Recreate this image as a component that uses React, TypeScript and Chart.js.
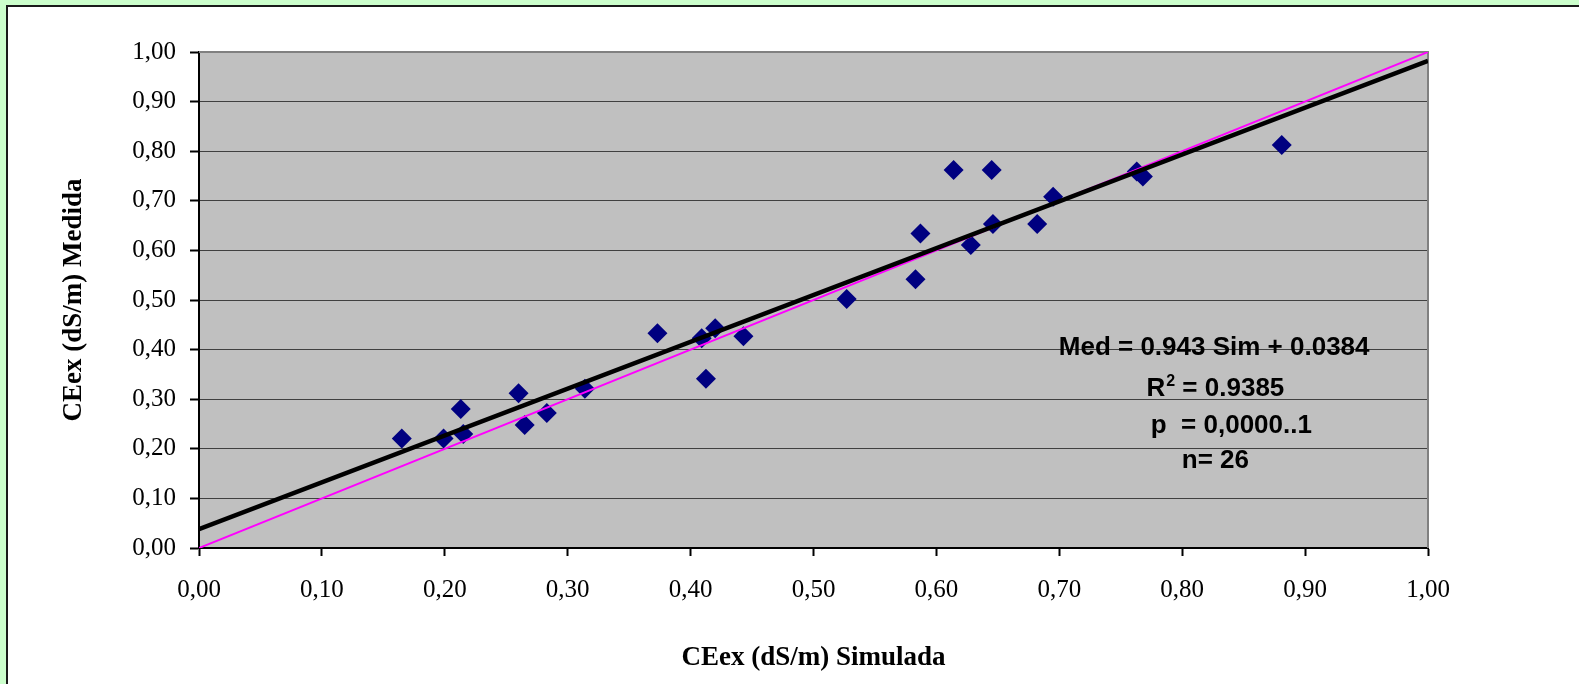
import React, { useEffect, useRef } from "react";
import { Chart, registerables } from "chart.js";

Chart.register(...registerables);

// ---- data ----
const simulated = [
  0.165, 0.199, 0.213, 0.215, 0.26, 0.265, 0.283, 0.314, 0.373, 0.409, 0.42, 0.4125, 0.443,
  0.527, 0.583, 0.587, 0.614, 0.628, 0.645, 0.646, 0.682, 0.695, 0.763, 0.768, 0.881,
];
const measured = [
  0.221, 0.221, 0.28, 0.23, 0.312, 0.248, 0.272, 0.321, 0.433, 0.423, 0.443, 0.341, 0.427,
  0.502, 0.542, 0.634, 0.762, 0.611, 0.762, 0.653, 0.653, 0.708, 0.759, 0.749, 0.8125,
];
const lineX = [0, 1];
const regressionY = [0.038, 0.982];
const identityY = [0, 1];

const xTickLabels = ["0,00", "0,10", "0,20", "0,30", "0,40", "0,50", "0,60", "0,70", "0,80", "0,90", "1,00"];
const yTickLabels = ["0,00", "0,10", "0,20", "0,30", "0,40", "0,50", "0,60", "0,70", "0,80", "0,90", "1,00"];

const xTitle = "CEex (dS/m) Simulada";
const yTitle = "CEex (dS/m) Medida";

const statLine1 = "Med = 0.943 Sim + 0.0384";
const statLine2Base = "R";
const statLine2Sup = "2";
const statLine2Rest = " = 0.9385";
const statLine3 = "p  = 0,0000..1";
const statLine4 = "n= 26";

// anchor positions (data coordinates) for the statistics block
const statAnchors = [
  { x: 0.826, y: 0.389 },
  { x: 0.827, y: 0.306 },
  { x: 0.84, y: 0.2325 },
  { x: 0.827, y: 0.161 },
];

const SERIF = '"Liberation Serif", "Times New Roman", serif';
const SANS = '"Liberation Sans", Arial, sans-serif';

const framePlugin = {
  id: "plotFrame",
  beforeDraw(chart: any) {
    const { ctx, chartArea: a } = chart;
    ctx.save();
    ctx.fillStyle = "#c0c0c0";
    ctx.fillRect(a.left, a.top, a.right - a.left, a.bottom - a.top);
    ctx.restore();
  },
  beforeDatasetsDraw(chart: any) {
    const { ctx, chartArea: a } = chart;
    ctx.save();
    ctx.strokeStyle = "#808080";
    ctx.lineWidth = 2;
    ctx.beginPath();
    ctx.moveTo(a.left, a.top);
    ctx.lineTo(a.right, a.top);
    ctx.lineTo(a.right, a.bottom);
    ctx.stroke();
    ctx.restore();
  },
};

const statsPlugin = {
  id: "stats",
  afterDatasetsDraw(chart: any) {
    const { ctx } = chart;
    const xs = chart.scales.x;
    const ys = chart.scales.y;
    const mainFont = `bold 26px ${SANS}`;
    const supFont = `bold 16px ${SANS}`;
    ctx.save();
    ctx.fillStyle = "#000";
    ctx.textBaseline = "alphabetic";
    ctx.font = mainFont;
    ctx.textAlign = "center";
    const simple = [statLine1, null, statLine3, statLine4];
    simple.forEach((t, i) => {
      if (t === null) return;
      const p = statAnchors[i];
      ctx.fillText(t, xs.getPixelForValue(p.x), ys.getPixelForValue(p.y));
    });
    // R^2 line
    const p2 = statAnchors[1];
    const cx = xs.getPixelForValue(p2.x);
    const by = ys.getPixelForValue(p2.y);
    ctx.textAlign = "left";
    ctx.font = mainFont;
    const wR = ctx.measureText(statLine2Base).width;
    const wRest = ctx.measureText(statLine2Rest).width;
    ctx.font = supFont;
    const wSup = ctx.measureText(statLine2Sup).width;
    const total = wR + 1 + wSup + wRest;
    let x = cx - total / 2;
    ctx.font = mainFont;
    ctx.fillText(statLine2Base, x, by);
    x += wR + 1;
    ctx.font = supFont;
    ctx.fillText(statLine2Sup, x, by - 10);
    x += wSup;
    ctx.font = mainFont;
    ctx.fillText(statLine2Rest, x, by);
    ctx.restore();
  },
};

export default function App() {
  const ref = useRef<HTMLCanvasElement | null>(null);

  useEffect(() => {
    if (!ref.current) return;
    const points = simulated.map((v, i) => ({ x: v, y: measured[i] }));
    const regression = lineX.map((v, i) => ({ x: v, y: regressionY[i] }));
    const identity = lineX.map((v, i) => ({ x: v, y: identityY[i] }));

    const chart = new Chart(ref.current, {
      type: "scatter",
      data: {
        datasets: [
          {
            label: "Regresión",
            data: regression,
            showLine: true,
            borderColor: "#000000",
            borderWidth: 4.5,
            pointRadius: 0,
            fill: false,
          },
          {
            label: "1:1",
            data: identity,
            showLine: true,
            borderColor: "#ff00ff",
            borderWidth: 2,
            pointRadius: 0,
            fill: false,
          },
          {
            label: "Datos",
            data: points,
            pointStyle: "rectRot",
            pointRadius: 10,
            pointBackgroundColor: "#000080",
            pointBorderColor: "#000080",
            pointBorderWidth: 0,
            showLine: false,
          },
        ],
      } as any,
      options: {
        responsive: false,
        animation: false,
        events: [],
        layout: { padding: { left: 0, top: 52, right: 151, bottom: 0 } },
        plugins: {
          legend: { display: false },
          tooltip: { enabled: false },
        },
        scales: {
          x: {
            type: "linear",
            min: 0,
            max: 1,
            ticks: {
              stepSize: 0.1,
              autoSkip: false,
              maxRotation: 0,
              color: "#000",
              padding: 19,
              font: { family: SERIF, size: 25 },
              callback: (_v: any, i: number) => xTickLabels[i],
            },
            grid: {
              drawOnChartArea: false,
              tickLength: 8,
              tickColor: "#000",
              tickWidth: 2,
            },
            border: { color: "#000", width: 2 },
            title: {
              display: true,
              text: xTitle,
              color: "#000",
              font: { family: SERIF, size: 27, weight: "bold" },
              padding: { top: 0, bottom: 10 },
            },
            afterFit: (s: any) => {
              s.height = 136;
            },
          },
          y: {
            type: "linear",
            min: 0,
            max: 1,
            ticks: {
              stepSize: 0.1,
              autoSkip: false,
              color: "#000",
              padding: 14,
              font: { family: SERIF, size: 25 },
              callback: (_v: any, i: number) => yTickLabels[i],
            },
            grid: {
              color: "#404040",
              lineWidth: 1,
              tickLength: 9,
              tickColor: "#000",
              tickWidth: 2,
            },
            border: { color: "#000", width: 2 },
            title: {
              display: true,
              text: yTitle,
              color: "#000",
              font: { family: SERIF, size: 27, weight: "bold" },
              padding: { top: 58, bottom: 0 },
            },
            afterFit: (s: any) => {
              s.width = 199;
            },
          },
        },
      } as any,
      plugins: [framePlugin, statsPlugin],
    });
    return () => chart.destroy();
  }, []);

  return (
    <div
      style={{
        position: "fixed",
        left: 0,
        top: 0,
        width: 1579,
        height: 684,
        background: "#ccffcc",
        overflow: "hidden",
      }}
    >
      <div
        style={{
          position: "absolute",
          left: 6,
          top: 5,
          width: 1620,
          height: 720,
          background: "#ffffff",
          border: "2px solid #1a1a1a",
        }}
      />
      <canvas
        ref={ref}
        width={1579}
        height={684}
        style={{ position: "absolute", left: 0, top: 0, width: 1579, height: 684, display: "block" }}
      />
    </div>
  );
}
